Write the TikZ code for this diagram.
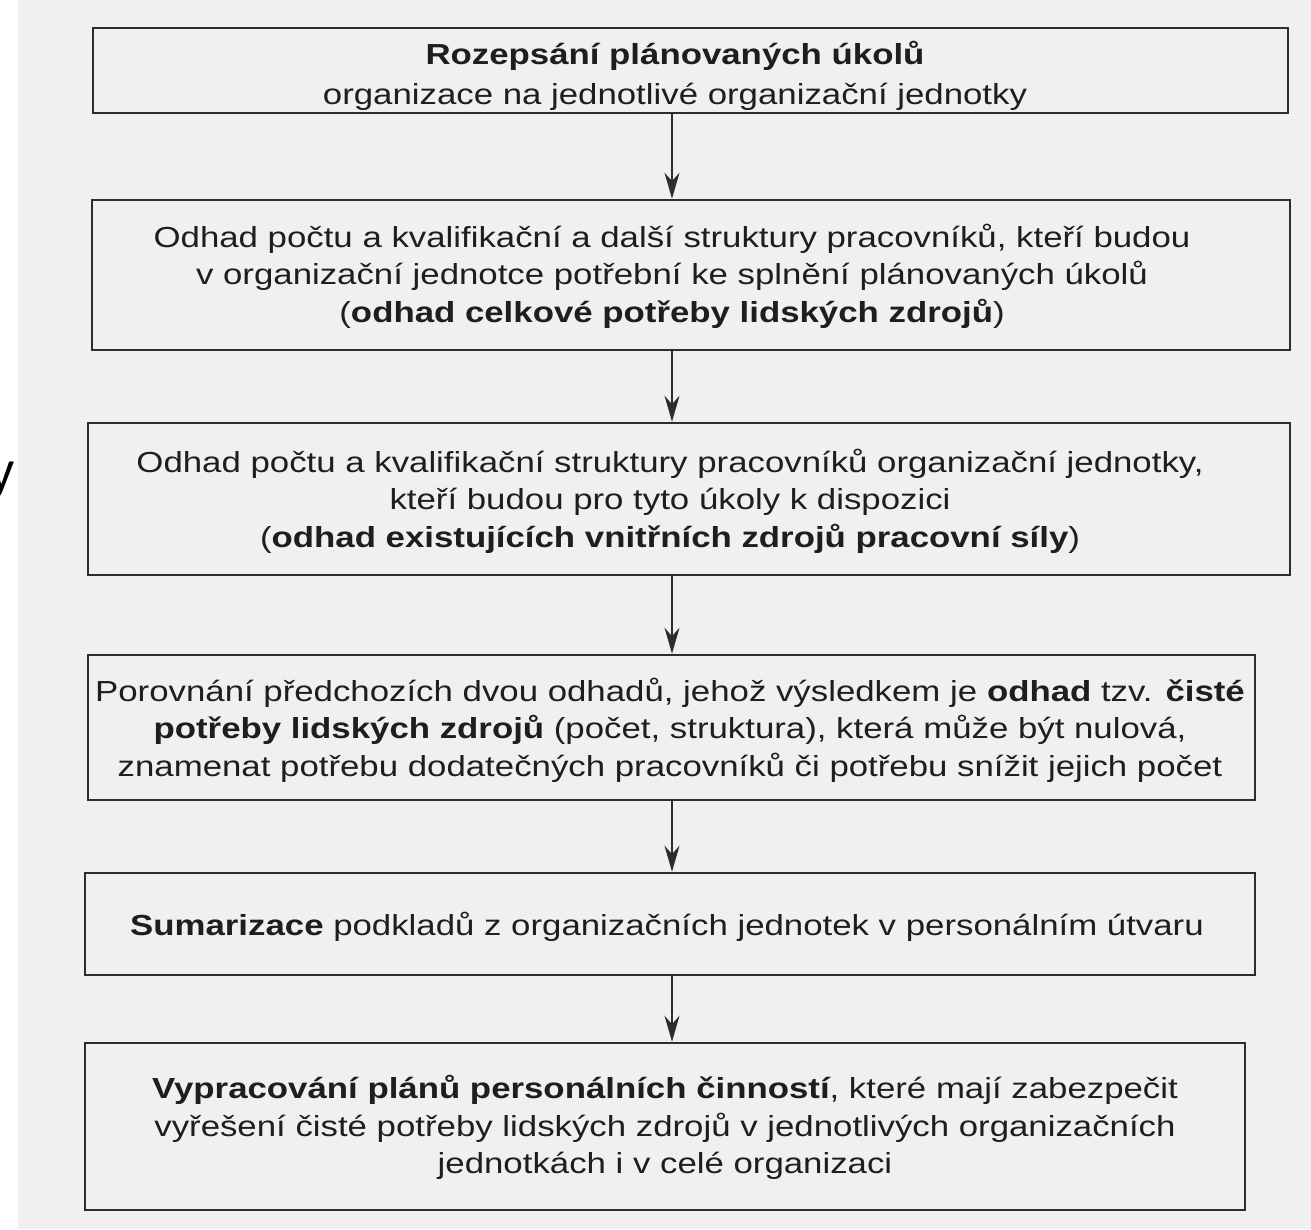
\documentclass[tikz,border=0pt]{standalone}
\usepackage{fontspec}
\setmainfont{Liberation Sans}[FakeStretch=1.2]
\newfontfamily\plainsans{Liberation Sans}
\usetikzlibrary{arrows.meta}
\definecolor{paper}{RGB}{241,240,241}
\definecolor{ink}{RGB}{30,30,30}
\definecolor{frame}{RGB}{45,45,45}
\tikzset{
  box/.style={draw=frame, line width=2.6pt, fill=paper, inner sep=0pt},
  boxtext/.style={inner sep=0pt, align=center, text=ink, font=\fontsize{29}{37.5}\selectfont},
  arr/.style={draw=frame, line width=2pt, -{Stealth[length=26pt,width=15pt]}}
}
\begin{document}
\begin{tikzpicture}[x=1pt,y=-1pt]
\useasboundingbox (0,0) rectangle (1311,1229);
\fill[white] (0,0) rectangle (1311,1229);
\fill[paper] (18,0) rectangle (1311,1229);
\node[box, minimum width=1195pt, minimum height=85pt] (b1) at (690.5,70.5) {};
\node[boxtext, font=\fontsize{29}{40}\selectfont] (t1) at (675,76)
  {\textbf{Rozepsání plánovaných úkolů}\\organizace na jednotlivé organizační jednotky};
\node[box, minimum width=1198pt, minimum height=150pt] (b2) at (691,275) {};
\node[boxtext] (t2) at (672,276)
  {Odhad počtu a kvalifikační a další struktury pracovníků, kteří budou\\v organizační jednotce potřební ke splnění plánovaných úkolů\\(\textbf{odhad celkové potřeby lidských zdrojů})};
\node[box, minimum width=1202pt, minimum height=152pt] (b3) at (689,499) {};
\node[boxtext] (t3) at (670,501)
  {Odhad počtu a kvalifikační struktury pracovníků organizační jednotky,\\kteří budou pro tyto úkoly k dispozici\\(\textbf{odhad existujících vnitřních zdrojů pracovní síly})};
\node[box, minimum width=1167pt, minimum height=145pt] (b4) at (671.5,727.5) {};
\node[boxtext] (t4) at (670,730)
  {Porovnání předchozích dvou odhadů, jehož výsledkem je \textbf{odhad} tzv. \textbf{čisté}\\\textbf{potřeby lidských zdrojů} (počet, struktura), která může být nulová,\\znamenat potřebu dodatečných pracovníků či potřebu snížit jejich počet};
\node[box, minimum width=1170pt, minimum height=102pt] (b5) at (670,924) {};
\node[boxtext] (t5) at (667,927)
  {\textbf{Sumarizace} podkladů z organizačních jednotek v personálním útvaru};
\node[box, minimum width=1160pt, minimum height=167pt] (b6) at (665,1126.5) {};
\node[boxtext] (t6) at (665,1127.5)
  {\textbf{Vypracování plánů personálních činností}, které mají zabezpečit\\vyřešení čisté potřeby lidských zdrojů v jednotlivých organizačních\\jednotkách i v celé organizaci};
\coordinate (ax) at (672,0);
\draw[arr] (b1.south -| ax) -- (b2.north -| ax);
\draw[arr] (b2.south -| ax) -- (b3.north -| ax);
\draw[arr] (b3.south -| ax) -- (b4.north -| ax);
\draw[arr] (b4.south -| ax) -- (b5.north -| ax);
\draw[arr] (b5.south -| ax) -- (b6.north -| ax);
\node[font=\plainsans\fontsize{52}{52}\selectfont, text=black, inner sep=0pt, anchor=base west] (yy) at (-12,489) {y};
\end{tikzpicture}
\end{document}
